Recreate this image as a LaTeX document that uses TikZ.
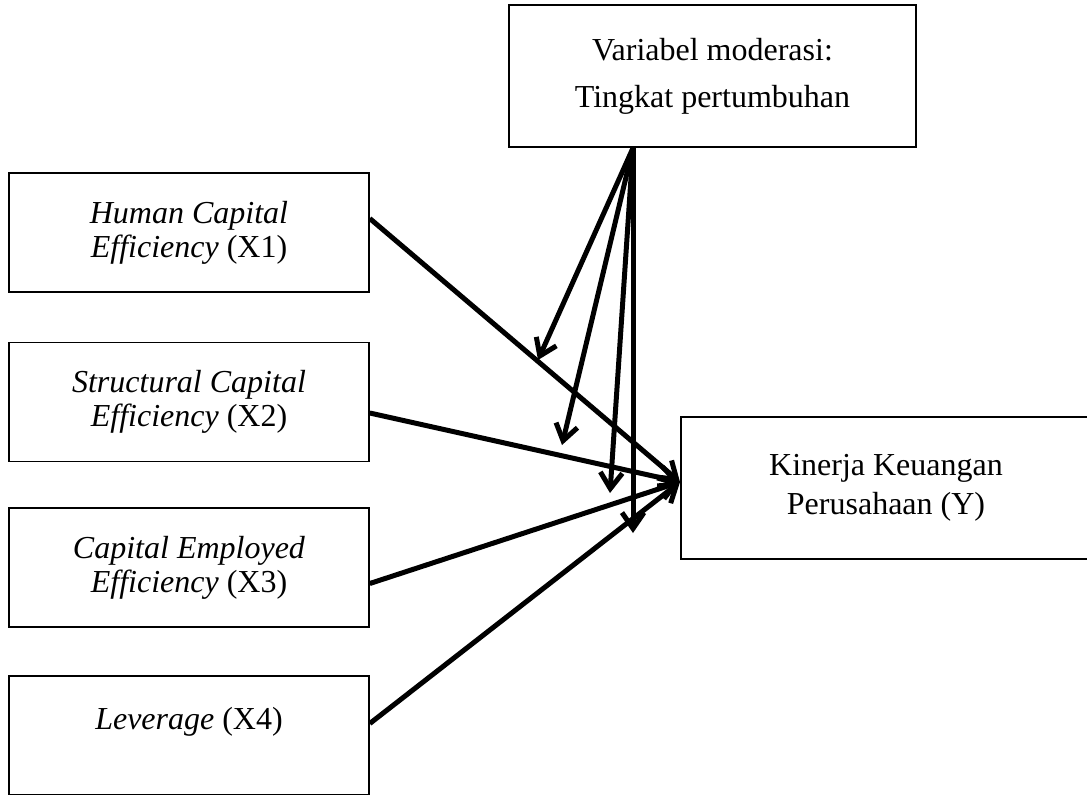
\documentclass[tikz,border=0pt]{standalone}
\usepackage{fontspec}
\setmainfont{Liberation Serif}
\usetikzlibrary{arrows.meta}

\tikzset{
  varbox/.style={draw, line width=0.8pt, rectangle, align=center,
    minimum width=180pt, minimum height=59.5pt,
    font=\fontsize{16}{17}\selectfont},
  link/.style={line width=2.5pt, -{Straight Barb[length=8pt,width=11pt]}}
}

\begin{document}
\begin{tikzpicture}[x=0.5pt, y=-0.5pt]

\useasboundingbox (0,0) rectangle (1087,794);
\clip (0,0) rectangle (1087,794);

\node[varbox] at (189,232.5) (x1) {\textit{Human Capital}\\\textit{Efficiency} (X1)};
\node[varbox] at (189,402) (x2) {\textit{Structural Capital}\\\textit{Efficiency} (X2)};
\node[varbox] at (189,567.5) (x3) {\textit{Capital Employed}\\\textit{Efficiency} (X3)};
\node[varbox] at (189,735.5) (x4) {\textit{Leverage} (X4)\\~};

\node[varbox, minimum width=205pt, minimum height=71pt,
  font=\fontsize{16}{19.5}\selectfont] at (886,488) (y) {Kinerja Keuangan\\Perusahaan (Y)};
\node[varbox, minimum width=203.5pt, minimum height=71pt,
  font=\fontsize{16}{23.5}\selectfont] at (712.5,76) (mod) {Variabel moderasi:\\Tingkat pertumbuhan};

\coordinate (yin) at (680,482);
\coordinate (mout) at (633,148);
\coordinate (m1) at (538,360);
\coordinate (m2) at (562,445);
\coordinate (m3) at (610,493);
\coordinate (m4) at (633,533);

\path[link] ([yshift=7pt]x1.east) edge (yin)
	([yshift=-5.5pt]x2.east) edge (yin)
	([yshift=-8pt]x3.east) edge (yin)
	([yshift=6pt]x4.east) edge (yin);

\path[link] (mout)
	edge (m1)
	edge (m2)
	edge (m3)
	edge (m4);

\end{tikzpicture}
\end{document}
